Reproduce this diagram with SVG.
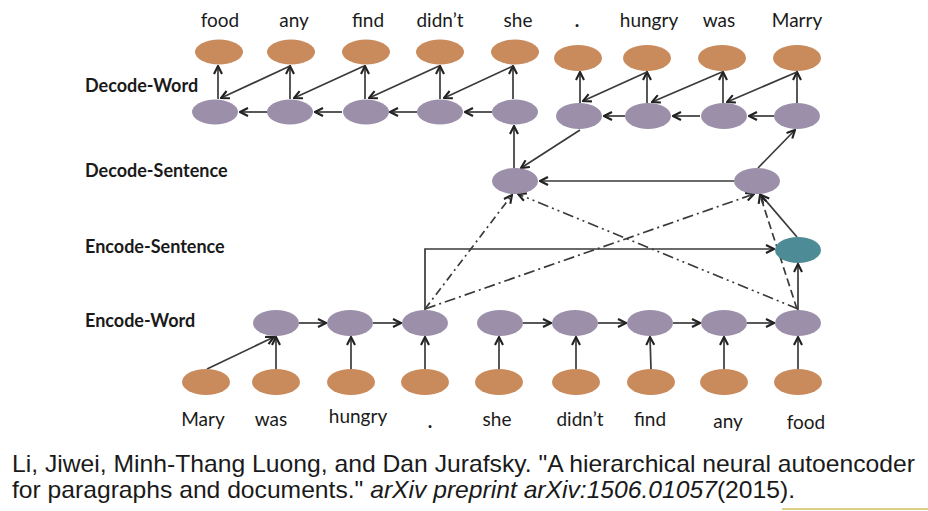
<svg xmlns="http://www.w3.org/2000/svg" width="928" height="511" viewBox="0 0 928 511">
<defs>
<marker id="ah" viewBox="0 0 10 10" refX="9" refY="5" markerWidth="10" markerHeight="10" markerUnits="userSpaceOnUse" orient="auto">
<path d="M1,1 L9,5 L1,9" fill="none" stroke="#222" stroke-width="2.1"/>
</marker>
<style>
.or{fill:#C98A5C}
.pu{fill:#9C8FAA}
.te{fill:#4D8B96}
.w{font-family:Lato,"Liberation Sans",sans-serif;font-size:19px;fill:#1a1a1a;text-anchor:middle}
.lb{font-family:Lato,"Liberation Sans",sans-serif;font-size:18px;font-weight:bold;fill:#1a1a1a}
.c{stroke:#3a3a3a;stroke-width:1.7;fill:none}
.a{marker-end:url(#ah)}
.cit{font-family:"Liberation Sans",Arial,sans-serif;font-size:24px;fill:#1a1a1a}
</style>
</defs>
<rect width="928" height="511" fill="#fff"/>

<g id="labels">
<text class="lb" x="85" y="92">Decode-Word</text>
<text class="lb" x="85" y="177">Decode-Sentence</text>
<text class="lb" x="85" y="253">Encode-Sentence</text>
<text class="lb" x="85" y="327">Encode-Word</text>
</g>

<g id="connectors">
<line class="c a" x1="218" y1="99" x2="218" y2="66"/>
<line class="c a" x1="290" y1="99" x2="290" y2="66"/>
<line class="c a" x1="365" y1="99" x2="365" y2="66"/>
<line class="c a" x1="440" y1="99" x2="440" y2="66"/>
<line class="c a" x1="513" y1="99" x2="513" y2="66"/>
<line class="c a" x1="580" y1="103" x2="580" y2="72"/>
<line class="c a" x1="647" y1="103" x2="647" y2="72"/>
<line class="c a" x1="723" y1="103" x2="723" y2="72"/>
<line class="c a" x1="797" y1="103" x2="797" y2="72"/>
<line class="c a" x1="290" y1="66" x2="221" y2="98"/>
<line class="c a" x1="364" y1="66" x2="294" y2="98"/>
<line class="c a" x1="439" y1="66" x2="369" y2="98"/>
<line class="c a" x1="513" y1="66" x2="444" y2="98"/>
<line class="c a" x1="647" y1="72" x2="583" y2="101"/>
<line class="c a" x1="722" y1="72" x2="652" y2="102"/>
<line class="c a" x1="797" y1="72" x2="727" y2="102"/>
<line class="c a" x1="267" y1="112" x2="240" y2="112"/>
<line class="c a" x1="342" y1="112" x2="315" y2="112"/>
<line class="c a" x1="417" y1="112" x2="390" y2="112"/>
<line class="c a" x1="492" y1="112" x2="465" y2="112"/>
<line class="c a" x1="625" y1="116" x2="604" y2="116"/>
<line class="c a" x1="700" y1="116" x2="673" y2="116"/>
<line class="c a" x1="774" y1="116" x2="749" y2="116"/>
<line class="c a" x1="514" y1="168" x2="514" y2="126"/>
<line class="c a" x1="580" y1="130" x2="521" y2="168"/>
<line class="c a" x1="758" y1="168" x2="795" y2="130"/>
<line class="c a" x1="734" y1="181" x2="540" y2="181"/>
<line class="c a" x1="797" y1="237" x2="761" y2="195"/>
<line class="c a" x1="798" y1="310" x2="798" y2="264"/>
<polyline class="c a" points="425,310 425,249 774,249"/>
<line class="c a" x1="425" y1="309" x2="512" y2="195" stroke-dasharray="8,4,2,4"/>
<line class="c a" x1="425" y1="309" x2="754" y2="194" stroke-dasharray="11,4,2,4"/>
<line class="c a" x1="798" y1="309" x2="518" y2="194" stroke-dasharray="11,4,2,4,2,4"/>
<line class="c a" x1="797" y1="309" x2="760" y2="195" stroke-dasharray="8,4"/>
<line class="c a" x1="299" y1="323" x2="326" y2="323"/>
<line class="c a" x1="373" y1="323" x2="401" y2="323"/>
<line class="c a" x1="523" y1="323" x2="551" y2="323"/>
<line class="c a" x1="598" y1="323" x2="626" y2="323"/>
<line class="c a" x1="673" y1="323" x2="700" y2="323"/>
<line class="c a" x1="747" y1="323" x2="774" y2="323"/>
<line class="c a" x1="207" y1="369" x2="274" y2="337"/>
<line class="c a" x1="276" y1="369" x2="276" y2="337"/>
<line class="c a" x1="351" y1="369" x2="351" y2="337"/>
<line class="c a" x1="425" y1="369" x2="425" y2="337"/>
<line class="c a" x1="499" y1="369" x2="499" y2="337"/>
<line class="c a" x1="576" y1="369" x2="576" y2="337"/>
<line class="c a" x1="651" y1="369" x2="650" y2="337"/>
<line class="c a" x1="724" y1="369" x2="724" y2="337"/>
<line class="c a" x1="798" y1="369" x2="798" y2="337"/>
</g>

<g id="dec-words">
<g id="dw-food"><ellipse class="or" cx="219" cy="52" rx="24" ry="12.5"/><text class="w" x="220" y="27">food</text></g>
<g id="dw-any"><ellipse class="or" cx="291" cy="52" rx="24" ry="12.5"/><text class="w" x="294" y="27">any</text></g>
<g id="dw-find"><ellipse class="or" cx="366" cy="52" rx="24" ry="12.5"/><text class="w" x="368" y="27">find</text></g>
<g id="dw-didnt"><ellipse class="or" cx="440" cy="52" rx="24" ry="12.5"/><text class="w" x="440" y="27">didn’t</text></g>
<g id="dw-she"><ellipse class="or" cx="515" cy="52" rx="24" ry="12.5"/><text class="w" x="518" y="27">she</text></g>
<g id="dw-dot"><ellipse class="or" cx="578" cy="58" rx="24" ry="13"/><text class="w" x="577" y="27" font-weight="bold">.</text></g>
<g id="dw-hungry"><ellipse class="or" cx="647" cy="58" rx="24" ry="13"/><text class="w" x="649" y="27">hungry</text></g>
<g id="dw-was"><ellipse class="or" cx="722" cy="58" rx="24" ry="13"/><text class="w" x="719" y="27">was</text></g>
<g id="dw-marry"><ellipse class="or" cx="797" cy="58" rx="24" ry="13"/><text class="w" x="797" y="27">Marry</text></g>
</g>

<g id="dec-word-states">
<g id="dh1"><ellipse class="pu" cx="215" cy="112" rx="23" ry="12.5"/></g>
<g id="dh2"><ellipse class="pu" cx="290" cy="112" rx="23" ry="12.5"/></g>
<g id="dh3"><ellipse class="pu" cx="366" cy="112" rx="23" ry="12.5"/></g>
<g id="dh4"><ellipse class="pu" cx="440" cy="112" rx="23" ry="12.5"/></g>
<g id="dh5"><ellipse class="pu" cx="515" cy="112" rx="23" ry="12.5"/></g>
<g id="dh6"><ellipse class="pu" cx="579" cy="116" rx="23" ry="13"/></g>
<g id="dh7"><ellipse class="pu" cx="648" cy="116" rx="23" ry="13"/></g>
<g id="dh8"><ellipse class="pu" cx="724" cy="116" rx="23" ry="13"/></g>
<g id="dh9"><ellipse class="pu" cx="797" cy="116" rx="23" ry="13"/></g>
</g>

<g id="dec-sent-1"><ellipse class="pu" cx="515" cy="181" rx="23" ry="13"/></g>
<g id="dec-sent-2"><ellipse class="pu" cx="757" cy="181" rx="23" ry="13"/></g>
<g id="enc-sent"><ellipse class="te" cx="798" cy="250" rx="23" ry="13"/></g>

<g id="enc-word-states">
<g id="eh1"><ellipse class="pu" cx="276" cy="323" rx="23" ry="13"/></g>
<g id="eh2"><ellipse class="pu" cx="350" cy="323" rx="23" ry="13"/></g>
<g id="eh3"><ellipse class="pu" cx="425" cy="323" rx="23" ry="13"/></g>
<g id="eh4"><ellipse class="pu" cx="500" cy="323" rx="23" ry="13"/></g>
<g id="eh5"><ellipse class="pu" cx="575" cy="323" rx="23" ry="13"/></g>
<g id="eh6"><ellipse class="pu" cx="650" cy="323" rx="23" ry="13"/></g>
<g id="eh7"><ellipse class="pu" cx="724" cy="323" rx="23" ry="13"/></g>
<g id="eh8"><ellipse class="pu" cx="798" cy="323" rx="23" ry="13"/></g>
</g>

<g id="enc-words">
<g id="ew-mary"><ellipse class="or" cx="206" cy="382" rx="24" ry="13"/><text class="w" x="203" y="426">Mary</text></g>
<g id="ew-was"><ellipse class="or" cx="276" cy="382" rx="24" ry="13"/><text class="w" x="271" y="426">was</text></g>
<g id="ew-hungry"><ellipse class="or" cx="351" cy="382" rx="24" ry="13"/><text class="w" x="358" y="423">hungry</text></g>
<g id="ew-dot"><ellipse class="or" cx="425" cy="382" rx="24" ry="13"/><text class="w" x="430" y="428" font-weight="bold">.</text></g>
<g id="ew-she"><ellipse class="or" cx="499" cy="382" rx="24" ry="13"/><text class="w" x="497" y="426">she</text></g>
<g id="ew-didnt"><ellipse class="or" cx="576" cy="382" rx="24" ry="13"/><text class="w" x="580" y="426">didn’t</text></g>
<g id="ew-find"><ellipse class="or" cx="651" cy="382" rx="24" ry="13"/><text class="w" x="650" y="426">find</text></g>
<g id="ew-any"><ellipse class="or" cx="724" cy="382" rx="24" ry="13"/><text class="w" x="728" y="428">any</text></g>
<g id="ew-food"><ellipse class="or" cx="798" cy="382" rx="24" ry="13"/><text class="w" x="806" y="429">food</text></g>
</g>

<g id="citation">
<text class="cit" x="12" y="472" textLength="903" lengthAdjust="spacingAndGlyphs">Li, Jiwei, Minh-Thang Luong, and Dan Jurafsky. "A hierarchical neural autoencoder</text>
<text class="cit" x="12" y="498" textLength="783" lengthAdjust="spacingAndGlyphs">for paragraphs and documents." <tspan font-style="italic">arXiv preprint arXiv:1506.01057</tspan>(2015).</text>
<line x1="782" y1="509" x2="928" y2="509" stroke="#CFC25A" stroke-width="1.5"/>
</g>
</svg>
